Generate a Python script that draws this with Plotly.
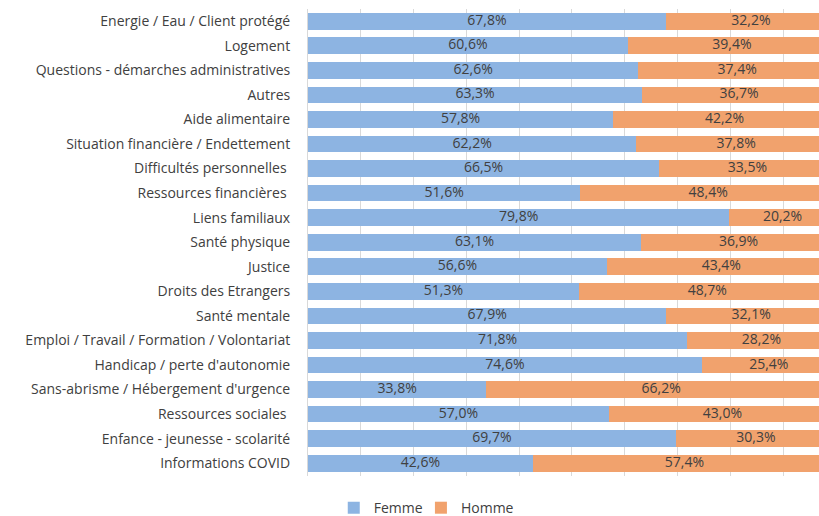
import plotly.graph_objects as go

categories = [
    "Energie / Eau / Client protégé",
    "Logement",
    "Questions - démarches administratives",
    "Autres",
    "Aide alimentaire",
    "Situation financière / Endettement",
    "Difficultés personnelles ",
    "Ressources financières ",
    "Liens familiaux",
    "Santé physique",
    "Justice",
    "Droits des Etrangers",
    "Santé mentale",
    "Emploi / Travail / Formation / Volontariat",
    "Handicap / perte d'autonomie",
    "Sans-abrisme / Hébergement d'urgence",
    "Ressources sociales ",
    "Enfance - jeunesse - scolarité",
    "Informations COVID",
]
femme = [67.8, 60.6, 62.6, 63.3, 57.8, 62.2, 66.5, 51.6, 79.8, 63.1,
         56.6, 51.3, 67.9, 71.8, 74.6, 33.8, 57.0, 69.7, 42.6]
homme = [32.2, 39.4, 37.4, 36.7, 42.2, 37.8, 33.5, 48.4, 20.2, 36.9,
         43.4, 48.7, 32.1, 28.2, 25.4, 66.2, 43.0, 30.3, 57.4]

BLUE = "#8DB4E2"
ORANGE = "#F1A26D"
TXT = "#404040"
FONT = "Open Sans"

def fmt(v):
    return f"{v:.1f}%".replace(".", ",")

fig = go.Figure()
fig.add_trace(go.Bar(y=categories, x=femme, name="Femme", orientation="h",
                     marker=dict(color=BLUE, line=dict(width=0)), legend="legend"))
fig.add_trace(go.Bar(y=categories, x=homme, name="Homme", orientation="h",
                     marker=dict(color=ORANGE, line=dict(width=0)), legend="legend2"))
fig.add_trace(go.Scatter(y=categories, x=[f / 2 for f in femme], mode="text",
                         text=[fmt(v) for v in femme], showlegend=False,
                         textfont=dict(color=TXT, size=14, family=FONT),
                         hoverinfo="skip", cliponaxis=False))
fig.add_trace(go.Scatter(y=categories, x=[f + h / 2 for f, h in zip(femme, homme)],
                         mode="text", text=[fmt(v) for v in homme], showlegend=False,
                         textfont=dict(color=TXT, size=14, family=FONT),
                         hoverinfo="skip", cliponaxis=False))

n = len(categories)
legend_common = dict(orientation="h", xanchor="left", y=-0.016, yanchor="bottom",
                     font=dict(size=14, color=TXT), itemwidth=30,
                     bgcolor="rgba(0,0,0,0)")
fig.update_layout(
    width=819, height=516,
    barmode="stack", bargap=0.32,
    margin=dict(l=308, r=0, t=9, b=0, autoexpand=False),
    plot_bgcolor="white", paper_bgcolor="white",
    font=dict(family=FONT, size=14, color=TXT),
    legend=dict(x=0.0504, **legend_common),
    legend2=dict(x=0.221, **legend_common),
    xaxis=dict(range=[0, 96.8], dtick=10, showgrid=True, gridcolor="#D9D9D9",
               showticklabels=False, zeroline=False, showline=False, fixedrange=True),
    yaxis=dict(range=[n - 0.5, -0.5], showline=True, linecolor="#D9D9D9",
               domain=[40.5 / 507, 1], ticks="", ticklabelstandoff=14,
               showgrid=False, automargin=False, fixedrange=True),
)

fig.write_html("out.html", config={"displayModeBar": False},
               post_script="document.body.style.margin='0';document.body.style.padding='0';")
